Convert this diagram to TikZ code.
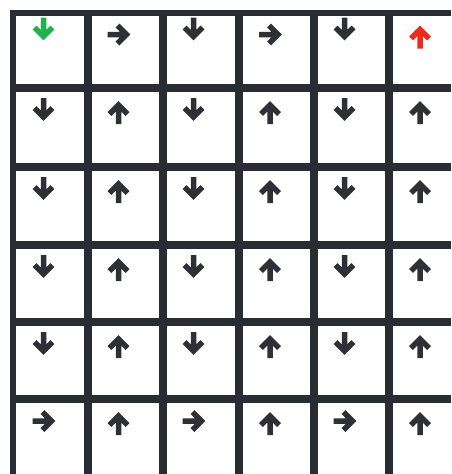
\documentclass[tikz,border=0pt]{standalone}
\usepackage{tikz}
\definecolor{GridDark}{RGB}{42, 44, 51}
\definecolor{ArrowDark}{RGB}{46, 48, 54}
\definecolor{StartGreen}{RGB}{34, 177, 76}
\definecolor{GoalRed}{RGB}{238, 42, 27}

\tikzset{
  gridbar/.style={GridDark, line width=8pt},
  outerbar/.style={GridDark, line width=6pt},
  arw/.style={line width=5.5pt, line join=miter},
  dn/.pic={\draw[arw] (0,-12) -- (0,7) (-9,-2) -- (0,7) -- (9,-2);},
  up/.pic={\draw[arw] (0,14) -- (0,-5) (-9,4) -- (0,-5) -- (9,4);},
  rt/.pic={\draw[arw] (-11,0) -- (8,0) (-1,-9) -- (8,0) -- (-1,9);}
}

\begin{document}
\begin{tikzpicture}[x=1pt, y=-1pt, color=ArrowDark]
      \useasboundingbox (0,0) rectangle (451,474);
      \clip (0,0) rectangle (451,474);
      \fill[white] (0,0) rectangle (451,474);

      % Grid
      \draw[outerbar] (9.5,12.5) -- (451,12.5);
      \draw[outerbar] (12.5,9.5) -- (12.5,474);
      \foreach \y in {88,167,245,322,399}
        \draw[gridbar] (10,\y) -- (451,\y);
      \foreach \x in {87.5,162.5,239,313.5,389,464.5}
        \draw[gridbar] (\x,10) -- (\x,474);

      % Arrows (first row)
      \pic[StartGreen] at (43.5,29.5) {dn};
      \pic at (118.5,34.5) {rt};
      \pic at (193.5,29.5) {dn};
      \pic at (270,34.5) {rt};
      \pic at (344.5,29.5) {dn};
      \pic[GoalRed] at (420,34.5) {up};

      % Arrows (middle rows)
      \foreach \y in {88,167,245,322} {
        \pic at (43.5,\y+22) {dn};
        \pic at (118.5,\y+22) {up};
        \pic at (193.5,\y+22) {dn};
        \pic at (270,\y+22) {up};
        \pic at (344.5,\y+22) {dn};
        \pic at (420,\y+22) {up};
      }

      % Arrows (last row)
      \pic at (43.5,421) {rt};
      \pic at (118.5,421) {up};
      \pic at (193.5,421) {rt};
      \pic at (270,421) {up};
      \pic at (344.5,421) {rt};
      \pic at (420,421) {up};
\end{tikzpicture}
\end{document}
